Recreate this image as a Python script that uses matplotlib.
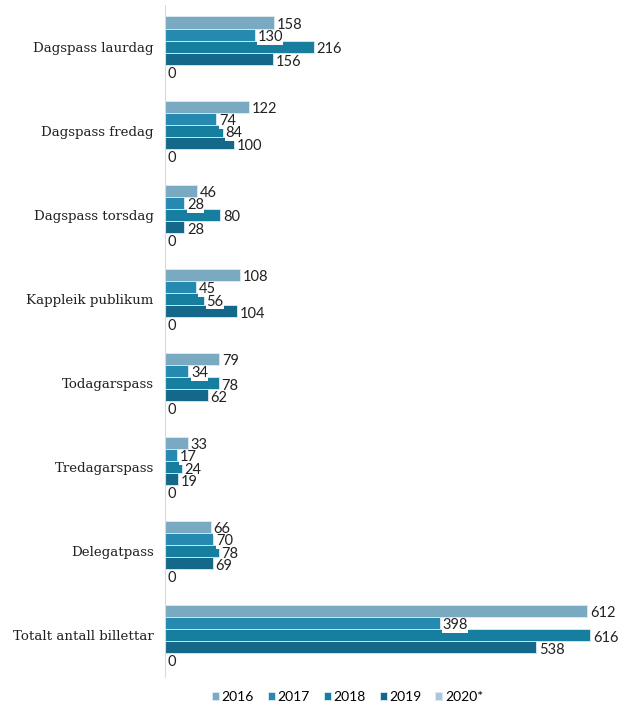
import numpy as np
import matplotlib.pyplot as plt

# data
categories = ['Dagspass laurdag', 'Dagspass fredag', 'Dagspass torsdag', 'Kappleik publikum',
              'Todagarspass', 'Tredagarspass', 'Delegatpass', 'Totalt antall billettar']
years = ['2016', '2017', '2018', '2019', '2020*']
v2016 = [158, 122, 46, 108, 79, 33, 66, 612]
v2017 = [130, 74, 28, 45, 34, 17, 70, 398]
v2018 = [216, 84, 80, 56, 78, 24, 78, 616]
v2019 = [156, 100, 28, 104, 62, 19, 69, 538]
v2020 = [0, 0, 0, 0, 0, 0, 0, 0]

series = [v2016, v2017, v2018, v2019, v2020]
colors = ['#7aaac2', '#2589b0', '#167f9f', '#14698a', '#a9c9da']

fig = plt.figure(figsize=(6.32, 7.06), dpi=100)
ax = fig.add_axes([0.261, 0.041, 0.71, 0.952])

y = np.arange(len(categories))
h = 0.145
for i, vals in enumerate(series):
    pos = y + (i - 2) * h
    ax.barh(pos, vals, height=h, color=colors[i], edgecolor='#dcebf2', linewidth=0.6,
            label=years[i])
    for p, v in zip(pos, vals):
        ax.text(v + 4, p + 0.03, str(v), va='center', ha='left', fontsize=10.5,
                family='Lato', color='#222222',
                bbox=dict(facecolor='white', edgecolor='none', pad=0.2))

ax.set_yticks(y)
ax.set_yticklabels(categories, family='DejaVu Serif', fontsize=9.6, color='#222222')
ax.set_ylim(len(categories) - 0.5, -0.5)
ax.set_xlim(0, 650)
ax.set_xticks([])
ax.tick_params(axis='y', length=0, pad=8)
for s in ['top', 'right', 'bottom']:
    ax.spines[s].set_visible(False)
ax.spines['left'].set_color('#d9d9d9')

leg = fig.legend(loc='lower center', bbox_to_anchor=(0.55, -0.014), ncol=5, frameon=False,
                 handlelength=0.5, handleheight=0.5, handletextpad=0.2, columnspacing=1.0,
                 prop={'family': 'Lato', 'size': 10})

fig.savefig('out.png', dpi=100)
